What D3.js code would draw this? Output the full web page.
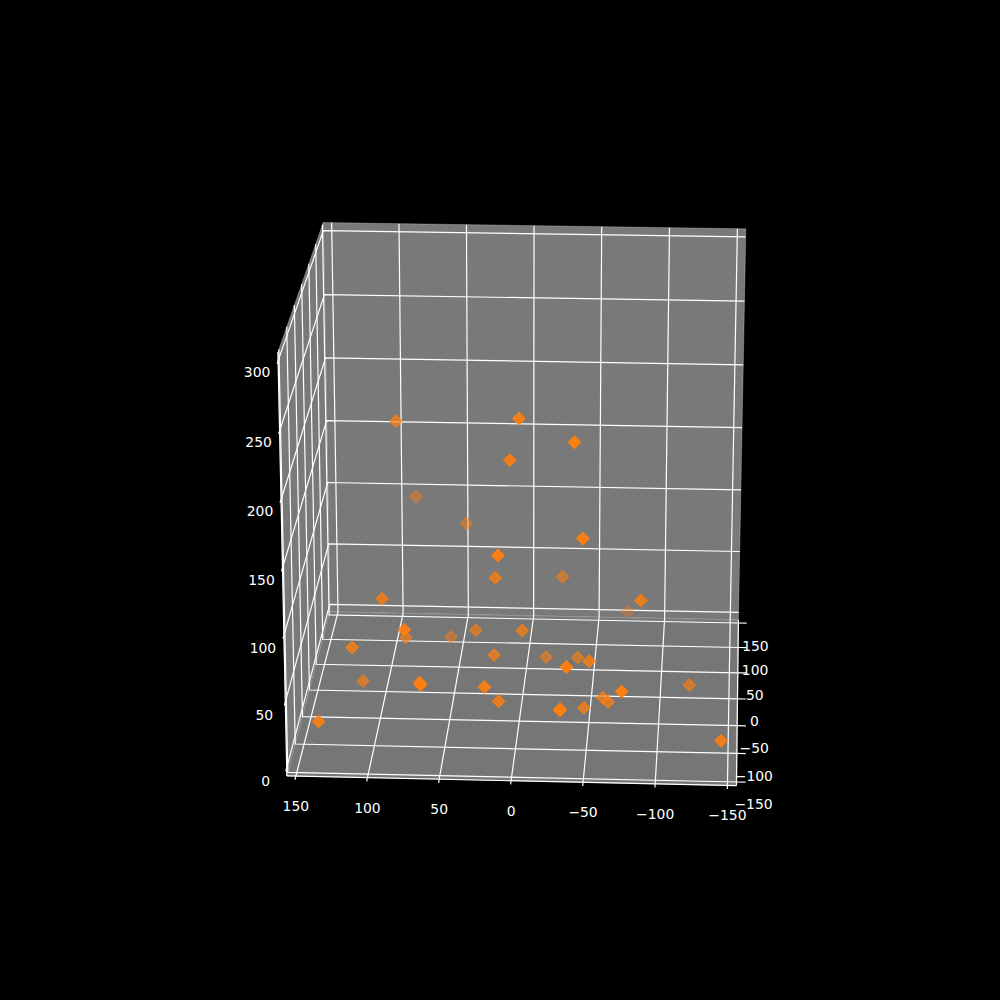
<!DOCTYPE html>
<html lang="en">
<head>
<meta charset="UTF-8">
<title>3D scatter</title>
<script src="https://d3js.org/d3.v7.min.js"></script>
<style>
body { margin: 0; background: #000; }
text { font-family: "DejaVu Sans", sans-serif; font-size: 13.9px; fill: #fff; }
</style>
</head>
<body>
<script>
const xTicks = [150, 100, 50, 0, -50, -100, -150];
const yTicks = [-150, -100, -50, 0, 50, 100, 150];
const zTicks = [0, 50, 100, 150, 200, 250, 300];
const xLim = [156.25, -156.25], yLim = [-156.25, 156.25], zLim = [-6.25, 306.25];

const xVals = [94, 1, -39, 7, 86, 48, -46, 13, 19, -26, 100, -86, -72, 79, 87, 36, 0, 58, 119, 20, -15, -39, -50, -37, 117, 72, 64, 22, 14, -29, -33, -46, -59, -63, -75, -121, -145, 140];
const yVals = [39, -32, -55, -42, 115, 110, -77, -85, -15, 62, -25, -34, 149, -87, 22, 27, -9, 80, -56, -16, 41, 24, -51, -128, 2, -44, -137, -98, -64, -43, -138, -40, -23, -26, -113, 7, -95, -94];
const zVals = [191, 219, 210, 191, 105, 86, 146, 135, 91, 63, 77, 83, 2, 78, 28, 33, 48, 6, 51, 31, 7, 14, 42, 69, 1, 20, 57, 40, 15, 1, 40, 1, 2, 0, 45, 1, 1, 9];

const sx = d3.scaleLinear().domain(xLim).range([-.504, .504]);
const sy = d3.scaleLinear().domain(yLim).range([-.5, .5]);
const sz = d3.scaleLinear().domain(zLim).range([-.5, .5]);

// camera, same maths as mplot3d
const elev = 20 * Math.PI / 180, yaw = 0.053, side = 1.04, dist = 10, focal = 4162, cx = 522.9, cy = 494.6;
const w = [Math.sin(yaw) * Math.cos(elev), -Math.cos(yaw) * Math.cos(elev), Math.sin(elev)];
const u = [Math.cos(yaw), Math.sin(yaw), 0];
const v = [-Math.sin(elev) * Math.sin(yaw), Math.sin(elev) * Math.cos(yaw), Math.cos(elev)];
const dot = (a, b) => a[0] * b[0] + a[1] * b[1] + a[2] * b[2];

function project(x, y, z) {
  const p = [sx(x), sy(y), sz(z)];
  const d = dist - side * dot(p, w);
  return [cx + focal * side * dot(p, u) / d, cy - focal * side * dot(p, v) / d, dot(p, w)];
}

const svg = d3.select('body').append('svg').attr('width', 1000).attr('height', 1000);
const line = d3.line();
const path3 = pts => line(pts.map(p => project(...p).slice(0, 2)));
const [xl, xr] = xLim, [yf, yb] = yLim, [z0, z1] = zLim;

const panes = [
  { fill: '#797979', pts: [[xl, yb, z0], [xr, yb, z0], [xr, yb, z1], [xl, yb, z1]] },
  { fill: '#797979', pts: [[xl, yf, z0], [xl, yb, z0], [xl, yb, z1], [xl, yf, z1]] },
  { fill: '#767676', pts: [[xl, yf, z0], [xr, yf, z0], [xr, yb, z0], [xl, yb, z0]] }
];
svg.append('g').selectAll('path').data(panes).join('path')
  .attr('d', d => path3(d.pts) + 'Z')
  .attr('fill', d => d.fill)
  .attr('stroke', '#fff').attr('stroke-opacity', .25).attr('stroke-width', 1);

const gridLines = [
  ...xTicks.map(t => [[t, yf, z0], [t, yb, z0], [t, yb, z1]]),
  ...yTicks.map(t => [[xr, t, z0], [xl, t, z0], [xl, t, z1]]),
  ...zTicks.map(t => [[xr, yb, t], [xl, yb, t], [xl, yf, t]]),
  ...xTicks.map(t => [[t, yf, z0], [t, yf - 6.25, z0]]),
  ...yTicks.map(t => [[xr, t, z0], [xr - 6.25, t, z0]]),
  ...zTicks.map(t => [[xl, yf, t], [xl, yf - 6.25, t]]),
  [[xl, yf, z0], [xr, yf, z0]], [[xr, yf, z0], [xr, yb, z0]], [[xl, yf, z0], [xl, yf, z1]]
];
svg.append('g').selectAll('path').data(gridLines).join('path')
  .attr('d', path3)
  .attr('fill', 'none').attr('stroke', '#fff').attr('stroke-width', 1.2);

const label = (t, pos, dx, dy) => svg.append('text')
  .attr('x', pos[0] + dx).attr('y', pos[1] + dy)
  .attr('text-anchor', 'middle').attr('dominant-baseline', 'central')
  .text(String(t).replace('-', '\u2212'));
xTicks.forEach(t => label(t, project(t, yf, z0), 0, 30));
yTicks.forEach(t => label(t, project(xr, t, z0), 17, 22.5));
zTicks.forEach(t => label(t, project(xl, yf, t), -21, 13 - 2 * t / 300));

// far points get faded, like depthshade
const points = xVals.map((x, i) => project(x, yVals[i], zVals[i]));
const alpha = d3.scaleLinear().domain(d3.extent(points, d => d[2])).range([.3, 1]);
const diamond = d3.symbol(d3.symbolDiamond2, 92)();
svg.append('g').selectAll('path').data(d3.sort(points, d => d[2])).join('path')
  .attr('d', diamond)
  .attr('transform', d => `translate(${d[0]},${d[1]})`)
  .attr('fill', '#ff7f0e').attr('fill-opacity', d => alpha(d[2]))
  .attr('stroke', '#ff7f0e').attr('stroke-opacity', d => alpha(d[2])).attr('stroke-width', 1.4);
</script>
</body>
</html>
